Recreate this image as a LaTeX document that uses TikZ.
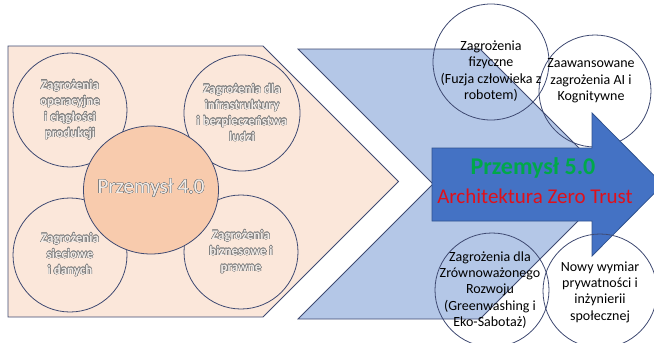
\documentclass[tikz,border=0pt]{standalone}
\usepackage{fontspec}
\setmainfont{Carlito}
\usepackage[copies]{contour}
\contourlength{0.4pt}
\contournumber{24}
\usetikzlibrary{shapes.geometric}
\definecolor{peachbg}{HTML}{FBE7DA}
\definecolor{peachc}{HTML}{F8CBAD}
\definecolor{navy}{HTML}{3F4A72}
\definecolor{lblue}{HTML}{B4C7E7}
\definecolor{dblue}{HTML}{4472C4}
\definecolor{dbluebd}{HTML}{2F528F}
\definecolor{olgray}{HTML}{808080}
\definecolor{oltext}{HTML}{F2ECE8}
\definecolor{grn}{HTML}{00A84A}
\definecolor{rd}{HTML}{E0101A}
\newcommand{\olt}[1]{\contour{olgray}{#1}}
\tikzset{
  peachbox/.style={fill=peachbg, draw=navy, line width=0.8pt},
  lcirc/.style={circle, draw=navy, line width=0.8pt, inner sep=0pt},
  ltxt/.style={align=center, inner sep=0pt, text=oltext, font=\bfseries\fontsize{13}{16}\selectfont},
  chevbox/.style={fill=lblue, draw=navy, line width=0.8pt},
  arrowbox/.style={fill=dblue, draw=dbluebd, line width=0.8pt},
  rcirc/.style={circle, draw=navy, line width=0.8pt, inner sep=0pt},
  rtxt/.style={align=center, inner sep=0pt, text=black, font=\fontsize{14}{16.3}\selectfont}
}
\begin{document}
\begin{tikzpicture}[x=1pt,y=-1pt]
\useasboundingbox (0,0) rectangle (654,343);
% left pentagon
\draw[peachbox] (8,46) -- (263,46) -- (398.5,181.5) -- (263,317) -- (8,317) -- cycle;
% left circles
\node[lcirc, minimum size=114pt] (c1) at (70,110) {};
\node[lcirc, minimum size=116pt] (c2) at (242,113) {};
\node[lcirc, minimum size=114pt] (c3) at (70,255) {};
\node[lcirc, minimum size=114pt] (c4) at (241,252) {};
\node[ellipse, fill=peachc, draw=navy, line width=0.8pt, minimum width=135pt, minimum height=128pt, inner sep=0pt] (c0) at (151,190) {};
\node[ltxt] (t1) at (c1) {\olt{Zagrożenia}\\\olt{operacyjne}\\\olt{i ciągłości}\\\olt{produkcji}};
\node[ltxt] (t2) at (c2) {\olt{Zagrożenia dla}\\\olt{infrastruktury}\\\olt{i bezpieczeństwa}\\\olt{ludzi}};
\node[ltxt] (t3) at (c3) {\olt{Zagrożenia}\\\olt{sieciowe}\\\olt{i danych}};
\node[ltxt] (t4) at (c4) {\olt{Zagrożenia}\\\olt{biznesowe i}\\\olt{prawne}};
\node[inner sep=0pt, text=oltext, font=\fontsize{21}{24}\selectfont] (t0) at (151,188) {\olt{Przemysł 4.0}};
% blue chevron
\draw[chevbox] (298,49) -- (480,49) -- (615,184) -- (480,319) -- (298,319) -- (433,184) -- cycle;
% top right circles
\node[rcirc, minimum size=116pt] (r1) at (491,62) {};
\node[rcirc, minimum size=112pt] (r2) at (595,91) {};
% big arrow
\draw[arrowbox] (432,148) -- (592,148) -- (592,113) -- (663,184.5) -- (592,256) -- (592,221) -- (432,221) -- cycle;
% bottom right circles
\node[rcirc, minimum size=114pt] (r3) at (492,290) {};
\node[rcirc, minimum size=114pt] (r4) at (600,291) {};
% texts
\node[rtxt] (t5) at (491,71) {Zagrożenia\\fizyczne\\(Fuzja człowieka z\\robotem)};
\node[rtxt] (t6) at (591,81) {Zaawansowane\\zagrożenia AI i\\Kognitywne};
\node[rtxt] (t7) at (490,290) {Zagrożenia dla\\Zrównoważonego\\Rozwoju\\(Greenwashing i\\Eko-Sabotaż)};
\node[rtxt] (t8) at (600,292) {Nowy wymiar\\prywatności i\\inżynierii\\społecznej};
\node[inner sep=0pt, text=grn, font=\bfseries\fontsize{24}{28}\selectfont] (p5) at (533,168) {Przemysł 5.0};
\node[inner sep=0pt, text=rd, font=\fontsize{21}{24}\selectfont] (zt) at (535,196) {Architektura Zero Trust};
\end{tikzpicture}
\end{document}
